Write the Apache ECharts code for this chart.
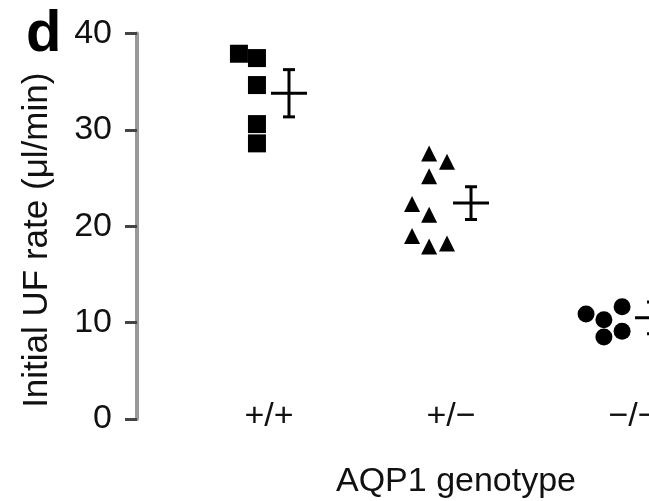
<!DOCTYPE html>
<html>
<head>
<meta charset="utf-8">
<script src="https://cdn.jsdelivr.net/npm/echarts@6/dist/echarts.min.js"></script>
<style>
  html, body { margin: 0; padding: 0; background: #fff; }
  #main { width: 649px; height: 501px; }
</style>
</head>
<body>
<div id="main"></div>
<script>
// genotype groups (x position 1, 2, 3)
var genotypes = ['+/+', '+/\u2212', '\u2212/\u2212'];
var groupX = [1, 2, 3];

// +/+ (squares): x offset within group, value
var wtOffset = [-0.165, -0.066, -0.066, -0.066, -0.066];
var wtVals = [37.9, 37.45, 34.65, 30.6, 28.6];

// +/- (triangles)
var hetOffset = [-0.12, -0.022, -0.12, -0.214, -0.12, -0.214, -0.12, -0.022];
var hetVals = [27.55, 26.7, 25.2, 22.3, 21.2, 19.0, 17.9, 18.2];

// -/- (circles)
var koOffset = [-0.258, -0.16, -0.06, -0.06, -0.16];
var koVals = [10.9, 10.3, 11.65, 9.1, 8.5];

// mean +/- SE per group
var meanOffset = 0.11;
var meanVals = [33.8, 22.4, 10.5];
var semVals = [2.45, 1.7, 1.65];

var yTicks = [0, 10, 20, 30, 40];

function pts(g, offs, vals) {
  var out = [];
  for (var i = 0; i < vals.length; i++) {
    out.push([groupX[g] + offs[i], vals[i]]);
  }
  return out;
}

var meanData = [];
for (var i = 0; i < meanVals.length; i++) {
  meanData.push([groupX[i] + meanOffset, meanVals[i], semVals[i]]);
}

var font = "'Liberation Sans', Arial, Helvetica, sans-serif";
var chart = echarts.init(document.getElementById('main'), null, { renderer: 'canvas' });

var option = {
  animation: false,
  backgroundColor: '#fff',
  title: {
    text: 'd',
    left: 21,
    top: 1,
    textStyle: { fontFamily: font, fontSize: 58, fontWeight: 'bold', color: '#000' }
  },
  // the plot runs past the right edge of the picture
  grid: { left: 137, top: 33.5, bottom: 82, width: 638, outerBoundsMode: 'none', containLabel: false },
  xAxis: {
    type: 'value',
    min: 0.275,
    max: 3.78,
    name: 'AQP1 genotype',
    nameLocation: 'middle',
    nameGap: 46,
    nameTextStyle: { fontFamily: font, fontSize: 34, color: '#111' },
    axisLine: { show: false },
    axisTick: { show: false },
    splitLine: { show: false },
    axisLabel: {
      customValues: groupX,
      formatter: function (v) { return genotypes[groupX.indexOf(v)] || ''; },
      margin: -2,
      verticalAlign: 'middle',
      fontFamily: font,
      fontSize: 34,
      color: '#111'
    }
  },
  yAxis: {
    type: 'value',
    min: yTicks[0],
    max: yTicks[yTicks.length - 1],
    interval: 10,
    name: 'Initial UF rate (\u03bcl/min)',
    nameLocation: 'middle',
    nameGap: 82,
    nameTextStyle: { fontFamily: font, fontSize: 35, color: '#111', padding: [0, 28, 0, 0] },
    axisLine: { show: true, lineStyle: { color: '#999', width: 4 } },
    axisTick: { show: true, length: 12, lineStyle: { color: '#444', width: 3 } },
    splitLine: { show: false },
    axisLabel: { margin: 25, fontFamily: font, fontSize: 34, color: '#111', padding: [6, 0, 0, 0] }
  },
  series: [
    {
      type: 'scatter',
      symbol: 'rect',
      symbolSize: 18,
      itemStyle: { color: '#000', opacity: 1 },
      data: pts(0, wtOffset, wtVals)
    },
    {
      type: 'scatter',
      symbol: 'triangle',
      symbolSize: 16,
      itemStyle: { color: '#000', opacity: 1 },
      data: pts(1, hetOffset, hetVals)
    },
    {
      type: 'scatter',
      symbol: 'circle',
      symbolSize: 17,
      itemStyle: { color: '#000', opacity: 1 },
      data: pts(2, koOffset, koVals)
    },
    {
      type: 'custom',
      data: meanData,
      renderItem: function (params, api) {
        var x = api.value(0), m = api.value(1), e = api.value(2);
        var c = api.coord([x, m]);
        var t = api.coord([x, m + e]);
        var b = api.coord([x, m - e]);
        var st = { stroke: '#000', lineWidth: 3 };
        return {
          type: 'group',
          children: [
            { type: 'line', shape: { x1: c[0] - 18, y1: c[1], x2: c[0] + 18, y2: c[1] }, style: st },
            { type: 'line', shape: { x1: c[0], y1: t[1], x2: c[0], y2: b[1] }, style: st },
            { type: 'line', shape: { x1: c[0] - 6, y1: t[1], x2: c[0] + 6, y2: t[1] }, style: st },
            { type: 'line', shape: { x1: c[0] - 6, y1: b[1], x2: c[0] + 6, y2: b[1] }, style: st }
          ]
        };
      }
    }
  ]
};

chart.setOption(option);
</script>
</body>
</html>
